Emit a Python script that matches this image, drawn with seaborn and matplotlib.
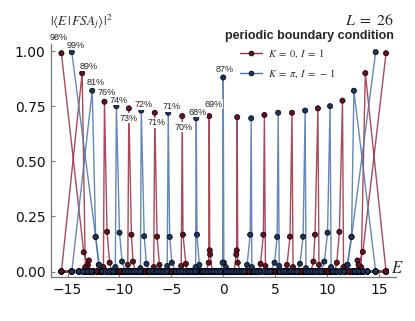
import numpy as np
import pandas as pd
import seaborn as sns
import matplotlib.pyplot as plt
from matplotlib.lines import Line2D

nan = np.nan

# eigenenergies whose overlap with every FSA state is ~0
red_bulk_E = [-15.6, -13.25, -12.85, -12.5, -12.15, -11.8, -10.75, -10.45, -10.15, -9.85, -9.55,
              -9.3, -8.45, -8.15, -7.85, -7.55, -7.25, -6.95, -6.2, -5.9, -5.6, -5.3, -5.0, -4.7,
              -4.4, -4.15, -3.45, -3.15, -2.85, -2.55, -2.25, -1.95, -1.65, -1.05, -0.75, -0.45,
              -0.15, 0.15, 0.45, 0.75, 1.05, 1.65, 1.95, 2.25, 2.55, 2.85, 3.15, 3.45, 4.15, 4.4,
              4.7, 5.0, 5.3, 5.6, 5.9, 6.2, 6.95, 7.25, 7.55, 7.85, 8.15, 8.45, 9.3, 9.55, 9.85,
              10.15, 10.45, 10.75, 11.8, 12.15, 12.5, 12.85, 13.25, 15.7]
blue_bulk_E = [-14.6, -13.9, -13.5, -13.05, -12.7, -11.65, -11.3, -10.95, -10.6, -9.45, -9.15,
               -8.85, -8.6, -8.3, -8.0, -7.1, -6.8, -6.5, -6.35, -6.05, -5.75, -5.45, -4.55, -4.25,
               -3.95, -3.6, -3.3, -3.0, -2.7, -2.0, -1.8, -1.5, -1.2, -0.9, -0.6, -0.3, 0.3, 0.6,
               0.9, 1.2, 1.5, 1.8, 2.0, 3.0, 3.3, 3.6, 3.95, 4.25, 4.55, 5.45, 5.75, 6.05, 6.35,
               6.5, 6.8, 7.1, 8.0, 8.3, 8.6, 8.85, 9.15, 9.45, 10.6, 10.95, 11.3, 11.65, 12.7,
               13.05, 13.5, 13.9, 14.7]

# K=0, I=1 sector: one line per FSA state j
red_peak_E = [-15.6, -13.6, -11.45, -9.1, -6.6, -3.95, -1.35, 1.35, 3.97, 6.63, 9.13, 11.5, 13.7, 15.7]
red_peak_P = [0.99, 0.90, 0.77, 0.74, 0.72, 0.705, 0.705, 0.70, 0.71, 0.72, 0.74, 0.775, 0.90, 0.99]
red_pre_E = [nan, -15.6, -11.55, -9.2, -6.7, -4.05, -1.4, 1.4, 4.07, 6.73, 9.23, 11.6, 15.7, nan]
red_pre_P = [nan, 0.0, 0.02, 0.03, 0.02, 0.025, 0.04, 0.04, 0.025, 0.02, 0.03, 0.02, 0.0, nan]
red_next_E = [-13.45, -13.3, -11.2, -8.85, -6.38, -3.88, -1.30, 1.30, 3.87, 6.44, 8.85, 11.2, 13.3, 13.46]
red_next_P = [0.087, 0.02, 0.18, 0.167, 0.158, 0.167, 0.096, 0.096, 0.167, 0.158, 0.167, 0.18, 0.02, 0.089]
red_tail_E = [-13.05, -12.95, -10.95, -8.7, -6.15, -3.6, -1.26, 1.26, 3.6, 6.15, 8.7, 10.95, 12.95, 13.05]
red_tail_P = [0.03, 0.05, 0.04, 0.045, 0.03, 0.035, 0.077, 0.077, 0.035, 0.03, 0.045, 0.04, 0.05, 0.03]

# K=pi, I=-1 sector
blue_peak_E = [-14.6, -12.63, -10.3, -7.9, -5.3, -2.6, 0.0, 2.7, 5.3, 7.9, 10.3, 12.6, 14.7]
blue_peak_P = [0.995, 0.82, 0.75, 0.73, 0.72, 0.695, 0.88, 0.695, 0.72, 0.73, 0.75, 0.82, 0.995]
blue_pre_E = [nan, -14.6, -10.4, -7.98, -5.4, -2.66, -0.06, 2.76, 5.4, 7.98, 10.4, 14.7, nan]
blue_pre_P = [nan, 0.0, 0.02, 0.015, 0.025, 0.02, 0.04, 0.02, 0.025, 0.015, 0.02, 0.0, nan]
blue_next_E = [-12.3, -12.3, -10.0, -7.62, -5.16, -2.53, 0.06, 2.6, 5.2, 7.7, 10.06, 12.37, 12.37]
blue_next_P = [0.157, 0.157, 0.176, 0.16, 0.157, 0.167, 0.04, 0.167, 0.157, 0.158, 0.176, 0.157, 0.157]
blue_tail_E = [-12.0, -11.95, -9.75, -7.4, -4.95, -2.3, 0.25, 2.3, 4.95, 7.4, 9.75, 11.95, 12.0]
blue_tail_P = [0.03, 0.03, 0.045, 0.035, 0.04, 0.03, 0.02, 0.03, 0.04, 0.035, 0.045, 0.03, 0.03]

# percentages written next to the peaks with E <= 0 (in order of E)
pct_labels = ["98%", "99%", "89%", "81%", "76%", "74%", "73%", "72%", "71%", "71%", "70%", "68%", "69%", "87%"]
pct_offset_px = [(-3, -16), (4, -7), (7, -7), (3, -8), (2, -9), (2, -6), (0, 10),
                 (2, -6), (2, 10), (3, -6), (1, 11), (1, -6), (4, -12), (1, -8)]


def build(sector, bulk, pE, pP, qE, qP, nE, nP, tE, tP):
    rows = []
    for j in range(len(pE)):
        pts = [(pE[j], pP[j]), (nE[j], nP[j]), (tE[j], tP[j])]
        if not np.isnan(qE[j]):
            pts.append((qE[j], qP[j]))
        lo = min(p[0] for p in pts) - 1e-6
        hi = max(p[0] for p in pts) + 1e-6
        pts += [(e, 0.0) for e in bulk if not lo <= e <= hi]
        for e, p in pts:
            rows.append({"sector": sector, "line": f"{sector}{j}", "E": e, "P": p})
    return rows


df = pd.DataFrame(
    build("red", red_bulk_E, red_peak_E, red_peak_P, red_pre_E, red_pre_P,
          red_next_E, red_next_P, red_tail_E, red_tail_P)
    + build("blue", blue_bulk_E, blue_peak_E, blue_peak_P, blue_pre_E, blue_pre_P,
            blue_next_E, blue_next_P, blue_tail_E, blue_tail_P)
)

sns.set_style("ticks")
plt.rcParams["mathtext.fontset"] = "stix"

line_pal = {"red": "#9c2a3c", "blue": "#4a72ad"}
dot_pal = {"red": "#6a0f20", "blue": "#1a3464"}

fig = plt.figure(figsize=(4.15, 3.21), dpi=100)
ax = fig.add_axes([0.123, 0.137, 0.831, 0.726])

sns.lineplot(data=df, x="E", y="P", hue="sector", units="line", estimator=None, sort=True,
             palette=line_pal, lw=1.0, alpha=0.85, legend=False, ax=ax)
sns.scatterplot(data=df, x="E", y="P", hue="sector", palette=dot_pal, s=14,
                edgecolor="black", linewidth=0.5, legend=False, ax=ax, zorder=3)

ax.set_xlim(-16.6, 16.65)
ax.set_ylim(-0.025, 1.032)
ax.set_xticks([-15, -10, -5, 0, 5, 10, 15])
ax.set_yticks([0, 0.25, 0.5, 0.75, 1.0])
ax.set_yticklabels(["0.00", "0.25", "0.50", "0.75", "1.00"])
ax.set_xlabel("")
ax.set_ylabel("")
ax.tick_params(direction="in", length=3, width=0.8, labelsize=10, colors="#777777",
               labelcolor="#111111", pad=4)
sns.despine(ax=ax)
for s in ["left", "bottom"]:
    ax.spines[s].set_color("#777777")
    ax.spines[s].set_linewidth(0.9)

# percentage labels
left_peaks = sorted([(e, p) for e, p in zip(red_peak_E, red_peak_P) if e <= 0]
                    + [(e, p) for e, p in zip(blue_peak_E, blue_peak_P) if e <= 0])
for (e, p), txt, (dx, dy) in zip(left_peaks, pct_labels, pct_offset_px):
    ax.annotate(txt, (e, p), xytext=(dx * 0.72, -dy * 0.72), textcoords="offset points",
                ha="center", va="center", fontsize=6.5, family="Liberation Sans", zorder=5,
                bbox=dict(fc="white", ec="none", pad=0.3))

handles = [Line2D([], [], color=line_pal["red"], lw=1.0, marker="o", ms=3.5,
                  mfc=dot_pal["red"], mec="black", mew=0.5),
           Line2D([], [], color=line_pal["blue"], lw=1.0, marker="o", ms=3.5,
                  mfc=dot_pal["blue"], mec="black", mew=0.5)]
fig.legend(handles, [r"$K\;=\;0,\;I\;=\;1$", r"$K\;=\;\pi,\;I\;=\;-\,1$"], loc="upper left",
           bbox_to_anchor=(240 / 415, 1 - 47 / 321), frameon=False, fontsize=7.5,
           handlelength=2.1, handletextpad=0.6, labelspacing=0.7, borderpad=0, borderaxespad=0)

fig.text(0.947, 0.935, r"$L\;=\;26$", ha="right", va="center", fontsize=11.5)
fig.text(0.949, 0.888, "periodic boundary condition", ha="right", va="center",
         fontsize=9, fontweight="bold", family="Liberation Sans")
fig.text(0.12, 0.932, r"$|\langle E\,|\,FSA_j\rangle|^2$", ha="left", va="center", fontsize=9.5)
fig.text(0.957, 0.166, r"$E$", ha="center", va="center", fontsize=12)

fig.savefig("out.png", dpi=100)
